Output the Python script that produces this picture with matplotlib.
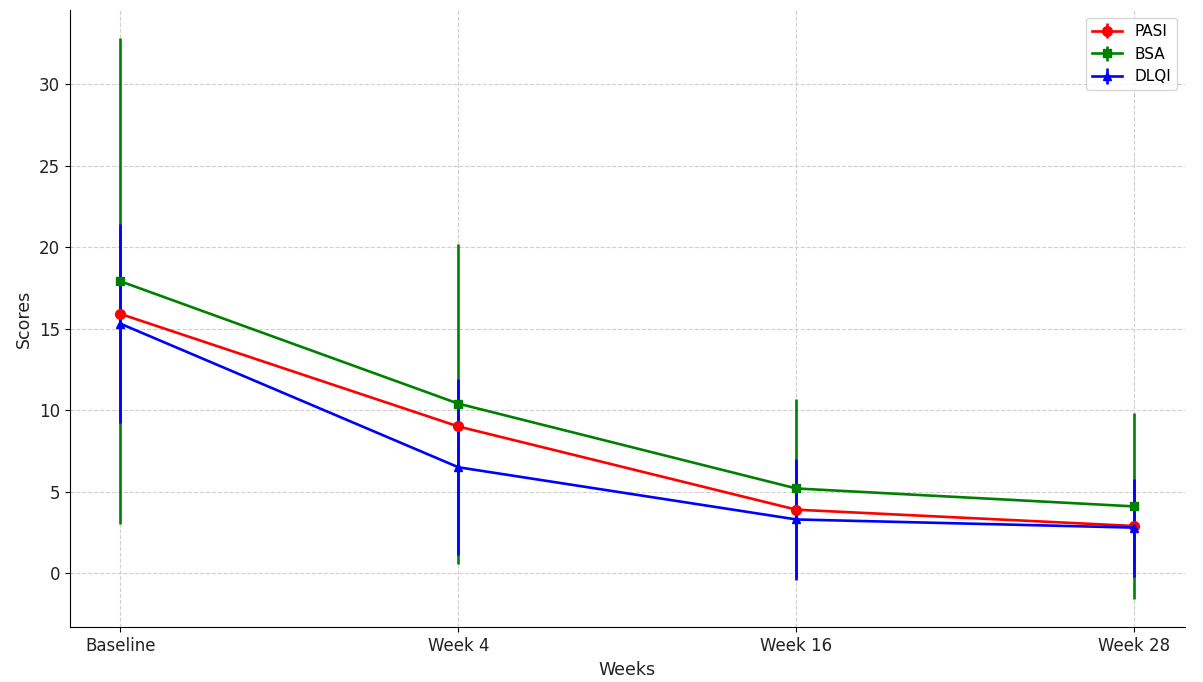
import matplotlib
matplotlib.use("Agg")
import matplotlib.pyplot as plt

weeks = ["Baseline", "Week 4", "Week 16", "Week 28"]

pasi = [15.9, 9.0, 3.9, 2.9]
pasi_sd = [5.0, 2.5, 2.5, 2.2]
bsa = [17.9, 10.4, 5.2, 4.1]
bsa_sd = [14.9, 9.8, 5.5, 5.7]
dlqi = [15.3, 6.5, 3.3, 2.8]
dlqi_sd = [6.1, 5.4, 3.7, 3.0]

fig, ax = plt.subplots(figsize=(12.03, 6.82), dpi=100)
x = range(len(weeks))
ax.errorbar(x, pasi, yerr=pasi_sd, color="red", marker="o", markersize=7, linewidth=1.9, label="PASI")
ax.errorbar(x, bsa, yerr=bsa_sd, color="green", marker="s", markersize=6, linewidth=1.9, label="BSA")
ax.errorbar(x, dlqi, yerr=dlqi_sd, color="blue", marker="^", markersize=6, linewidth=1.9, label="DLQI")

ax.set_xticks(list(x))
ax.set_xticklabels(weeks, fontsize=12, color="#222222")
ax.tick_params(axis="y", labelsize=12, labelcolor="#222222")
ax.set_xlabel("Weeks", fontsize=12.5, color="#222222")
ax.set_ylabel("Scores", fontsize=12.5, color="#222222")
ax.grid(True, linestyle="--", color="#d0d0d0", linewidth=0.8)
ax.spines["top"].set_visible(False)
ax.spines["right"].set_visible(False)
ax.legend(loc="upper right", fontsize=11)

plt.subplots_adjust(left=0.058, right=0.985, top=0.985, bottom=0.08)
plt.savefig("out.png")
